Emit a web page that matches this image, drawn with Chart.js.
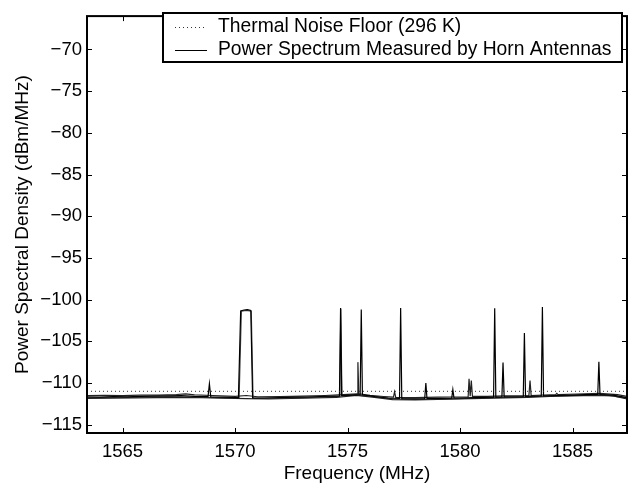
<!DOCTYPE html>
<html>
<head>
<meta charset="utf-8">
<script src="https://cdn.jsdelivr.net/npm/chart.js@4.4.1/dist/chart.umd.min.js"></script>
<style>
  body { margin: 0; background: #fff; }
  canvas { display: block; }
</style>
</head>
<body>
<canvas id="psdChart" width="629" height="483"></canvas>
<script>
// axis ticks
const xTicks = [1565, 1570, 1575, 1580, 1585];
const yTicks = [-115, -110, -105, -100, -95, -90, -85, -80, -75, -70];

// thermal noise floor (296 K)
const floorFreq = [1563.42, 1587.42];
const floorVal = [-111, -111];

// measured sweep 1 (carries most of the spurs)
const sweep1Freq = [1563.42, 1564.0, 1564.6, 1565.2, 1565.8, 1566.4, 1567.0, 1567.6, 1568.2, 1568.8,
  1568.86, 1568.92, 1569.5, 1570.15, 1570.25, 1570.4, 1570.55, 1570.7, 1570.78, 1571.3,
  1572.0, 1572.6, 1573.2, 1573.8, 1574.4, 1574.64, 1574.69, 1574.74, 1575.2, 1575.56,
  1575.61, 1575.66, 1576.2, 1576.8, 1577.31, 1577.36, 1577.41, 1578.0, 1578.43, 1578.48,
  1578.53, 1579.1, 1579.63, 1579.68, 1579.73, 1580.3, 1581.0, 1581.49, 1581.54, 1581.59,
  1581.86, 1581.91, 1581.96, 1582.4, 1582.81, 1582.86, 1582.91, 1583.61, 1583.66, 1583.71,
  1584.3, 1585.0, 1585.6, 1586.12, 1586.17, 1586.22, 1586.8, 1587.42];
const sweep1Val = [-111.65, -111.7, -111.62, -111.66, -111.6, -111.58, -111.55, -111.5, -111.6, -111.62,
  -110.1, -111.65, -111.7, -111.75, -101.35, -101.25, -101.2, -101.3, -111.8, -111.8,
  -111.75, -111.7, -111.68, -111.62, -111.58, -111.55, -101.0, -111.5, -111.45, -111.4,
  -101.2, -111.42, -111.62, -111.8, -111.85, -101.0, -111.88, -111.9, -111.88, -110.0,
  -111.86, -111.85, -111.82, -110.8, -111.8, -111.78, -111.72, -111.7, -101.05, -111.7,
  -111.68, -107.55, -111.66, -111.65, -111.62, -104.0, -111.6, -111.55, -100.9, -111.55,
  -111.5, -111.45, -111.4, -111.38, -107.45, -111.38, -111.45, -111.75];

// measured sweep 2 (upper edge of the band)
const sweep2Freq = [1563.42, 1564.2, 1565.0, 1565.8, 1566.6, 1567.4, 1567.8, 1568.2, 1569.0, 1570.0,
  1570.5, 1571.0, 1572.0, 1573.0, 1574.0, 1574.8, 1575.42, 1575.46, 1575.5, 1576.0,
  1576.6, 1577.04, 1577.09, 1577.14, 1578.0, 1579.0, 1580.36, 1580.4, 1580.45, 1580.5,
  1580.55, 1581.2, 1582.0, 1583.06, 1583.11, 1583.16, 1584.25, 1584.3, 1584.35, 1585.2,
  1586.2, 1587.0, 1587.42];
const sweep2Val = [-111.5, -111.48, -111.52, -111.45, -111.45, -111.38, -111.3, -111.42, -111.5, -111.6,
  -111.5, -111.65, -111.62, -111.58, -111.5, -111.4, -111.3, -107.5, -111.3, -111.48,
  -111.62, -111.7, -111.05, -111.72, -111.75, -111.7, -111.65, -109.5, -111.6, -109.7,
  -111.6, -111.6, -111.55, -111.5, -109.7, -111.5, -111.4, -111.25, -111.4, -111.32,
  -111.25, -111.4, -111.6];

// measured sweep 3 (lower edge of the band)
const sweep3Freq = [1563.42, 1564.5, 1565.5, 1566.5, 1567.5, 1568.5, 1569.5, 1570.5, 1571.5, 1572.5,
  1573.5, 1574.5, 1575.4, 1576.2, 1577.0, 1578.0, 1579.0, 1580.0, 1581.0, 1582.0,
  1583.0, 1584.0, 1585.0, 1586.0, 1586.8, 1587.42];
const sweep3Val = [-111.85, -111.82, -111.78, -111.76, -111.72, -111.76, -111.82, -111.88, -111.92, -111.86,
  -111.8, -111.72, -111.5, -111.72, -112.0, -112.02, -111.98, -111.92, -111.85, -111.78,
  -111.72, -111.62, -111.55, -111.48, -111.55, -111.9];

// measured sweep 4 (middle of the band, second copy of the strong spurs)
const sweep4Freq = [1563.42, 1564.8, 1566.0, 1567.2, 1568.4, 1569.6, 1570.18, 1570.28, 1570.5, 1570.72,
  1570.8, 1571.8, 1573.0, 1574.2, 1574.66, 1574.7, 1574.75, 1575.3, 1576.0, 1577.0,
  1578.2, 1579.4, 1580.6, 1581.8, 1583.0, 1584.2, 1585.4, 1586.4, 1587.42];
const sweep4Val = [-111.75, -111.72, -111.68, -111.62, -111.7, -111.78, -111.8, -101.4, -101.3, -101.4,
  -111.85, -111.82, -111.76, -111.66, -111.6, -101.1, -111.58, -111.42, -111.58, -111.9,
  -111.95, -111.9, -111.82, -111.74, -111.65, -111.56, -111.46, -111.4, -111.82];

const FONT = "'Liberation Sans', Arial, Helvetica, sans-serif";
const toPoints = (xs, ys) => xs.map((x, i) => ({ x: x, y: ys[i] }));

function sweep(label, xs, ys, color) {
  return {
    label: label,
    data: toPoints(xs, ys),
    borderColor: color,
    borderWidth: 1.2,
    pointRadius: 0,
    tension: 0,
    fill: false
  };
}

// frame, inward tick marks and the boxed legend, MATLAB style
const frameAndLegend = {
  id: 'frameAndLegend',
  afterDraw(chart) {
    const ctx = chart.ctx;
    const a = chart.chartArea;
    const xs = chart.scales.x;
    const ys = chart.scales.y;
    ctx.save();
    ctx.strokeStyle = '#000';
    ctx.lineWidth = 1;
    ctx.beginPath();
    xTicks.forEach(v => {
      const px = Math.round(xs.getPixelForValue(v)) + 0.5;
      ctx.moveTo(px, a.bottom); ctx.lineTo(px, a.bottom - 5);
      ctx.moveTo(px, a.top); ctx.lineTo(px, a.top + 5);
    });
    yTicks.forEach(v => {
      const py = Math.round(ys.getPixelForValue(v)) + 0.5;
      ctx.moveTo(a.left, py); ctx.lineTo(a.left + 5, py);
      ctx.moveTo(a.right, py); ctx.lineTo(a.right - 5, py);
    });
    ctx.stroke();
    ctx.lineWidth = 2;
    ctx.strokeRect(a.left, a.top, a.right - a.left, a.bottom - a.top);

    // legend box
    const bx = 163, by = 13, bw = a.right - 5 - bx, bh = 49;
    ctx.fillStyle = '#fff';
    ctx.fillRect(bx, by, bw, bh);
    ctx.strokeRect(bx, by, bw, bh);
    const rows = [
      { text: chart.data.datasets[0].label, y: by + 14, dash: [1, 3], color: '#333' },
      { text: chart.data.datasets[1].label, y: by + 37, dash: [], color: '#000' }
    ];
    ctx.font = '19.3px ' + FONT;
    ctx.textBaseline = 'middle';
    ctx.textAlign = 'left';
    rows.forEach(r => {
      ctx.beginPath();
      ctx.setLineDash(r.dash);
      ctx.lineWidth = 1;
      ctx.strokeStyle = r.color;
      ctx.moveTo(bx + 12, r.y + 0.5);
      ctx.lineTo(bx + 44, r.y + 0.5);
      ctx.stroke();
      ctx.setLineDash([]);
      ctx.fillStyle = '#000';
      ctx.fillText(r.text, bx + 55, r.y);
    });
    ctx.restore();
  }
};

const ctx = document.getElementById('psdChart').getContext('2d');

new Chart(ctx, {
  type: 'line',
  data: {
    datasets: [
      {
        label: 'Thermal Noise Floor (296 K)',
        data: toPoints(floorFreq, floorVal),
        borderColor: '#333',
        borderWidth: 1,
        borderDash: [1, 3],
        pointRadius: 0,
        fill: false
      },
      sweep('Power Spectrum Measured by Horn Antennas', sweep1Freq, sweep1Val, '#000'),
      sweep('sweep 2', sweep2Freq, sweep2Val, '#222'),
      sweep('sweep 3', sweep3Freq, sweep3Val, '#222'),
      sweep('sweep 4', sweep4Freq, sweep4Val, '#444')
    ]
  },
  options: {
    responsive: false,
    animation: false,
    layout: { padding: { top: 7, right: 2, left: 0, bottom: 0 } },
    plugins: {
      legend: { display: false },
      tooltip: { enabled: false }
    },
    scales: {
      x: {
        type: 'linear',
        min: 1563.42,
        max: 1587.42,
        afterBuildTicks: s => { s.ticks = xTicks.map(v => ({ value: v })); },
        afterFit: s => { s.height = 50; },
        grid: { drawOnChartArea: false, drawTicks: false },
        border: { display: false },
        ticks: {
          color: '#000',
          padding: 8,
          maxRotation: 0,
          font: { family: FONT, size: 18.5 },
          callback: v => String(v)
        },
        title: {
          display: true,
          text: 'Frequency (MHz)',
          color: '#000',
          font: { family: FONT, size: 19, lineHeight: 1 },
          padding: { top: 0, bottom: 0 }
        }
      },
      y: {
        type: 'linear',
        min: -116,
        max: -66,
        afterBuildTicks: s => { s.ticks = yTicks.map(v => ({ value: v })); },
        afterFit: s => { s.width = 87; },
        grid: { drawOnChartArea: false, drawTicks: false },
        border: { display: false },
        ticks: {
          color: '#000',
          padding: 5,
          font: { family: FONT, size: 18.5 },
          callback: v => String(v).replace('-', '\u2212')
        },
        title: {
          display: true,
          text: 'Power Spectral Density (dBm/MHz)',
          color: '#000',
          font: { family: FONT, size: 19, lineHeight: 1 },
          padding: { top: 13, bottom: 0 }
        }
      }
    }
  },
  plugins: [frameAndLegend]
});
</script>
</body>
</html>
